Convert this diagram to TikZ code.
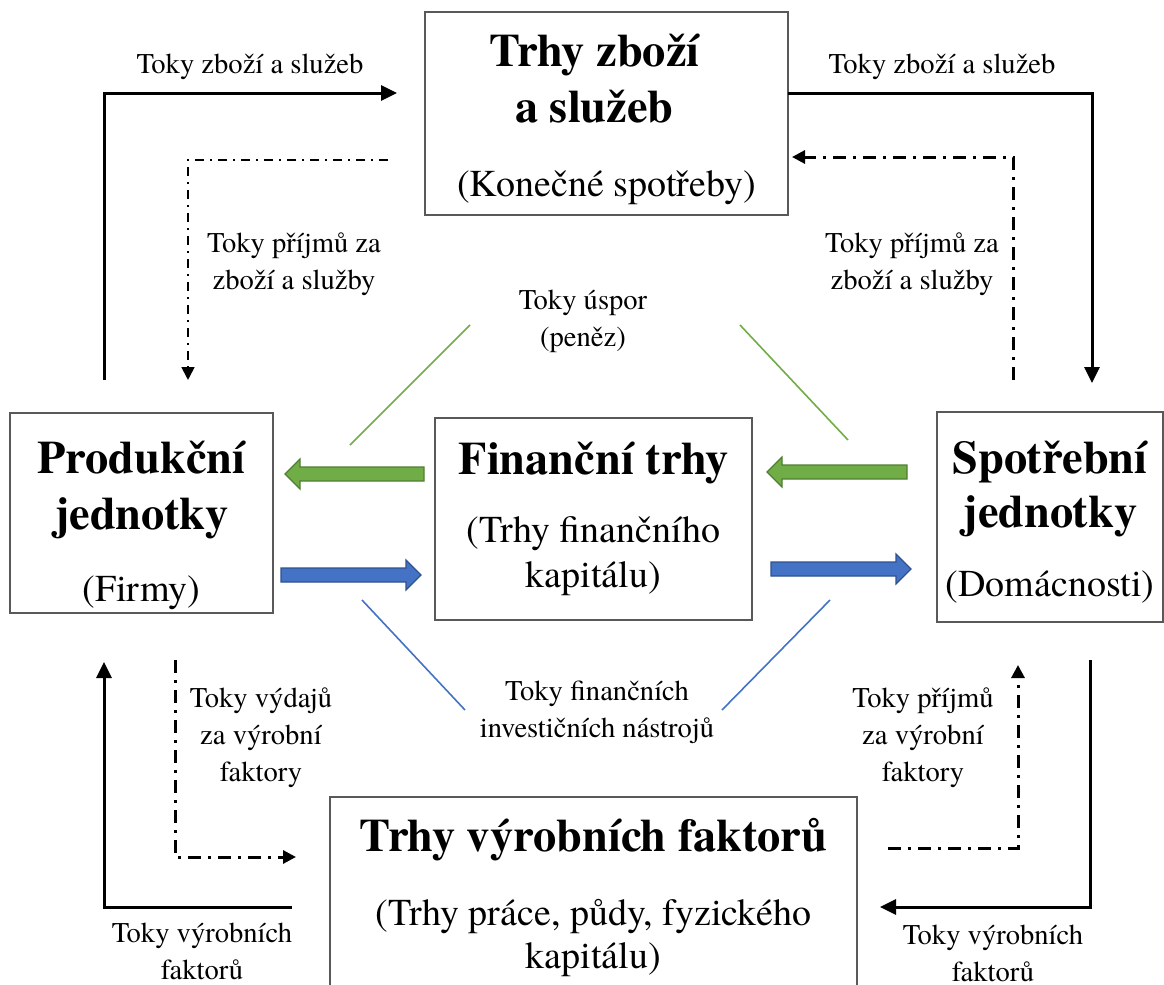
\documentclass[tikz,border=0pt]{standalone}
\usepackage{fontspec}
\IfFontExistsTF{texgyretermes-regular.otf}
  {\setmainfont{texgyretermes}[Extension=.otf,UprightFont=*-regular,BoldFont=*-bold,ItalicFont=*-italic,BoldItalicFont=*-bolditalic]}
  {\setmainfont{Liberation Serif}}
\usetikzlibrary{arrows.meta}
\definecolor{grn}{HTML}{70AD47}
\definecolor{grndk}{HTML}{507E32}
\definecolor{blu}{HTML}{4472C4}
\definecolor{bludk}{HTML}{2F528F}
\newcommand\plain{\fontsize{19}{23}\selectfont\mdseries}
\newcommand\fatarrow[4]{\pgfmathsetmacro\hb{#2-15*sign(#2-#1)}
  \filldraw[#4] (#1,#3-7) -- (\hb,#3-7) -- (\hb,#3-15) -- (#2,#3) -- (\hb,#3+15) -- (\hb,#3+7) -- (#1,#3+7) -- cycle;}

\begin{document}
\begin{tikzpicture}[x=0.5pt,y=-0.5pt,
  mkt/.style={draw=black!65,line width=0.7pt,align=center,inner sep=0pt,font=\fontsize{23.2}{28}\selectfont\bfseries},
  flow/.style={line width=1.5pt,-{Triangle[length=8pt,width=7.5pt]}},
  pay/.style={line width=1.5pt,dash pattern=on 6.5pt off 3.5pt on 1.5pt off 3.5pt,-{Triangle[length=6.5pt,width=6.5pt]}},
  lbl/.style={align=center,font=\fontsize{14.3}{18.5}\selectfont},
  sav/.style={grn,line width=0.8pt},
  inv/.style={blu,line width=0.8pt},
  sgrn/.style={fill=grn,draw=grndk,line width=0.6pt},
  sblu/.style={fill=blu,draw=bludk,line width=0.6pt}]
\useasboundingbox (0,0) rectangle (1164,985);

\node[mkt,minimum width=181.5pt,minimum height=101.5pt] (goods) at (606.5,113.5) {\rule{0pt}{22.5pt}Trhy zboží\rule{12pt}{0pt}\\a služeb\rule{12pt}{0pt}\\[9pt]\plain(Konečné spotřeby)};
\node[mkt,minimum width=131.5pt,minimum height=100pt] (firms) at (141.5,513) {\rule{0pt}{29pt}Produkční\\jednotky\\[8pt]\plain(Firmy)};
\node[mkt,minimum width=158.5pt,minimum height=101pt] (fin) at (593.5,519) {Finanční trhy\\[6pt]\plain(Trhy finančního\\[-5.5pt]\plain kapitálu)};
\node[mkt,minimum width=113pt,minimum height=105pt] (homes) at (1050,517) {\rule{0pt}{21.5pt}Spotřební\\[-1pt]jednotky\\[6.5pt]\plain(Domácnosti)};
\node[mkt,minimum width=263.5pt,minimum height=100pt] (factors) at (593.5,897) {Trhy výrobních faktorů\\[9pt]\plain(Trhy práce, půdy, fyzického\\[-6.5pt]\plain kapitálu)};

\node[lbl] (tzl) at (250,67) {Toky zboží a služeb};
\node[lbl] (tzr) at (942,67) {Toky zboží a služeb};
\node[lbl] (tpl) at (294,264) {Toky příjmů za\\zboží a služby};
\node[lbl] (tpr) at (912,264) {Toky příjmů za\\zboží a služby};
\node[lbl] (tus) at (583,321) {Toky úspor\\(peněz)};
\node[lbl] (tfi) at (597,712) {Toky finančních\\investičních nástrojů};
\node[lbl] (tvd) at (261,738) {Toky výdajů\\za výrobní\\faktory};
\node[lbl] (tpf) at (923,738) {Toky příjmů\\za výrobní\\faktory};
\node[lbl] (tvl) at (202,951) {Toky výrobních\\faktorů};
\node[lbl] (tvr) at (993,953) {Toky výrobních\\faktorů};

\coordinate (a1) at (104,380);  \coordinate (a2) at (397,93);
\coordinate (b1) at (388,160);  \coordinate (b2) at (188,380);
\coordinate (c1) at (788,93);   \coordinate (c2) at (1092,383);
\coordinate (d1) at (1013,380); \coordinate (d2) at (792,157);
\coordinate (e1) at (292,907);  \coordinate (e2) at (104,662);
\coordinate (f1) at (175,660);  \coordinate (f2) at (296,857);
\coordinate (g1) at (1090,660); \coordinate (g2) at (880,907);
\coordinate (h1) at (888,848);  \coordinate (h2) at (1018,665);

\draw[flow] (a1) |- (a2);
\draw[pay,line width=0.9pt,dash pattern=on 4.5pt off 3pt on 1pt off 3pt] (b1) -| (b2);
\draw[flow] (c1) -| (c2);
\draw[pay] (d1) |- (d2);
\draw[flow] (e1) -| (e2);
\draw[pay] (f1) |- (f2);
\draw[flow] (g1) |- (g2);
\draw[pay] (h1) -| (h2);

\coordinate (s1) at (350,445); \coordinate (s2) at (470,325);
\coordinate (s3) at (740,325); \coordinate (s4) at (848,440);
\coordinate (i1) at (362,600); \coordinate (i2) at (465,710);
\coordinate (i3) at (722,710); \coordinate (i4) at (830,600);
\draw[sav] (s1) -- (s2);
\draw[sav] (s3) -- (s4);
\draw[inv] (i1) -- (i2);
\draw[inv] (i3) -- (i4);

\fatarrow{424}{285}{474}{sgrn}
\fatarrow{281}{421}{575}{sblu}
\fatarrow{907}{767}{472}{sgrn}
\fatarrow{771}{911}{569}{sblu}
\end{tikzpicture}
\end{document}
